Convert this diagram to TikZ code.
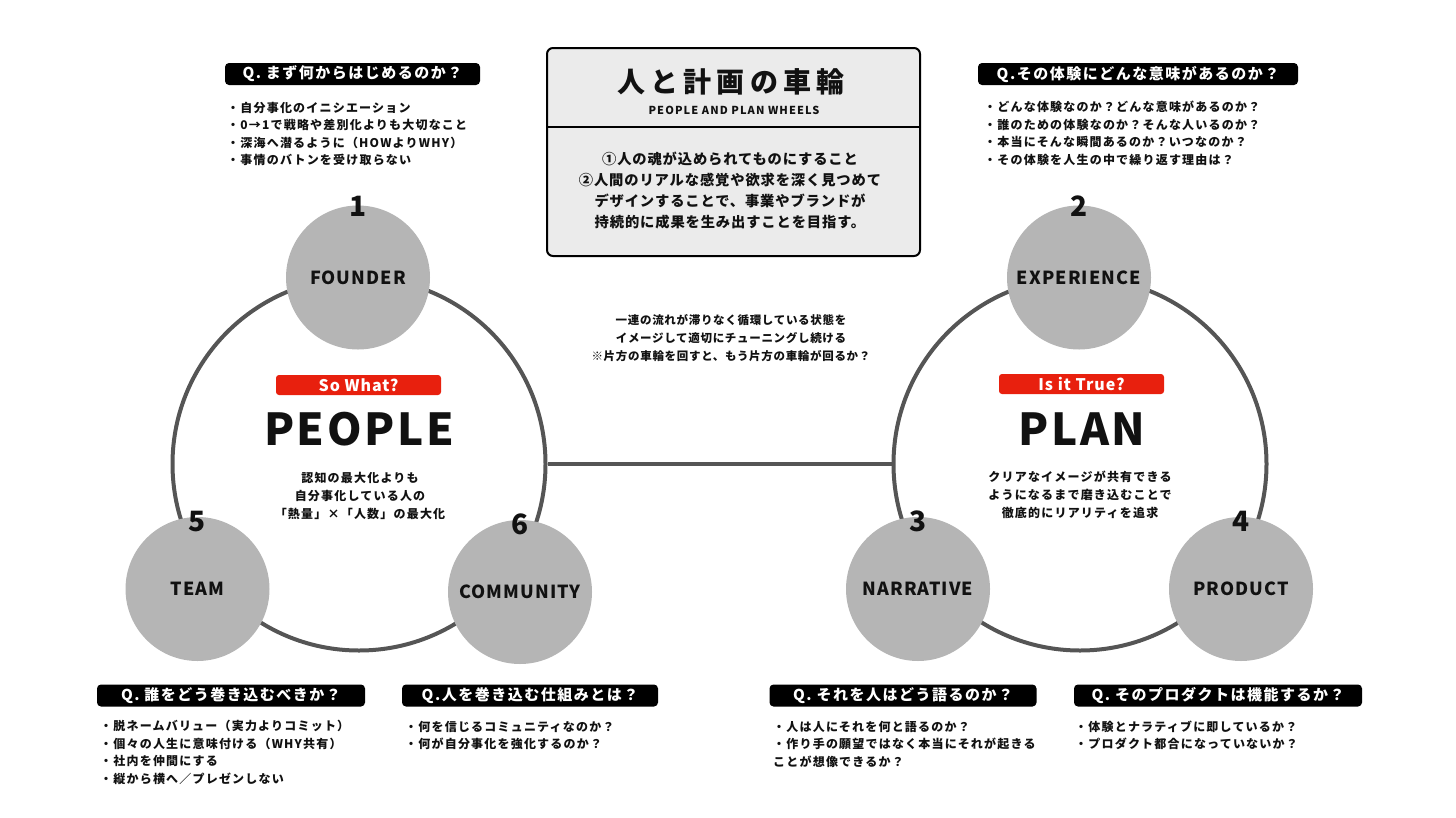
\documentclass[tikz,border=0pt]{standalone}
\usepackage{fontspec}
\setmainfont{Noto Sans CJK JP}
\newfontfamily\jpfont{Noto Sans CJK JP}[LetterSpace=10]
\newfontfamily\jptight{Noto Sans CJK JP}[LetterSpace=6]
\newfontfamily\jpwide{Noto Sans CJK JP}[LetterSpace=18]
\usetikzlibrary{positioning}
\definecolor{rimgray}{HTML}{555555}
\definecolor{spokegray}{HTML}{B5B5B5}
\definecolor{tagred}{HTML}{E8200E}
\definecolor{panelgray}{HTML}{EBEBEB}
\definecolor{inkblack}{HTML}{111111}
\tikzset{
  rim/.style={circle, draw=rimgray, line width=4pt, minimum size=373pt, inner sep=0pt},
  link/.style={draw=rimgray, line width=4pt},
  spoke/.style={circle, fill=spokegray, minimum size=144pt, inner sep=0pt, text=inkblack, font=\jptight\bfseries\fontsize{18pt}{18pt}\selectfont},
  num/.style={inner sep=0pt, text=inkblack, font=\bfseries\fontsize{28pt}{28pt}\selectfont},
  tag/.style={fill=tagred, rounded corners=3pt, minimum width=165pt, minimum height=20pt, inner sep=0pt, text=white, font=\jptight\bfseries\fontsize{16pt}{16pt}\selectfont},
  wheelname/.style={inner sep=0pt, anchor=base, text=inkblack, font=\jptight\bfseries\fontsize{44pt}{44pt}\selectfont},
  wheeldesc/.style={inner sep=0pt, align=center, text=inkblack, font=\jpfont\bfseries\fontsize{12pt}{18.3pt}\selectfont},
  qhead/.style={fill=black, rounded corners=4pt, minimum height=22pt, inner sep=0pt, text=white, font=\jpfont\bfseries\fontsize{15pt}{15pt}\selectfont},
  bullets/.style={inner sep=0pt, align=left, anchor=west, text=inkblack, font=\jpfont\bfseries\fontsize{12pt}{17.5pt}\selectfont},
  note/.style={inner sep=0pt, align=center, text=inkblack, font=\jptight\bfseries\fontsize{11.5pt}{18pt}\selectfont},
  panel/.style={draw=black, line width=2pt, fill=panelgray, rounded corners=6pt, minimum width=373pt, minimum height=208pt, inner sep=0pt}
}
\begin{document}
\begin{tikzpicture}[x=1pt, y=-1pt]
\useasboundingbox (0,0) rectangle (1456,817);
% title panel
\node[panel] (titlePanel) at (733.5,152) {};
\draw[line width=2pt] ([yshift=-80pt]titlePanel.north west) -- ([yshift=-80pt]titlePanel.north east);
\node[inner sep=0pt, text=inkblack, font=\jpwide\bfseries\fontsize{28pt}{28pt}\selectfont] (titleJp) at (731,81.7) {人と計画の車輪};
\node[inner sep=0pt, text=inkblack, font=\jpfont\bfseries\fontsize{11pt}{11pt}\selectfont] (titleEn) at (734,110) {PEOPLE AND PLAN WHEELS};
\node[note, font=\jptight\bfseries\fontsize{14.3pt}{21pt}\selectfont] (panelText) at (730,191) {①人の魂が込められてものにすること\\②人間のリアルな感覚や欲求を深く見つめて\\デザインすることで、事業やブランドが\\持続的に成果を生み出すことを目指す。};
% wheels
\node[rim] (peopleRim) at (359,464) {};
\node[rim] (planRim) at (1080,464) {};
\draw[link] (peopleRim.east) -- (planRim.west);
\node[spoke] (founder) at (358,277.5) {FOUNDER};
\node[spoke] (team) at (197.5,589) {TEAM};
\node[spoke] (community) at (520,592) {COMMUNITY};
\node[spoke] (experience) at (1079,277.5) {EXPERIENCE};
\node[spoke] (narrative) at (918,589) {NARRATIVE};
\node[spoke] (product) at (1241,589) {PRODUCT};
\node[num] (numFounder) at ([yshift=-1pt]founder.north) {1};
\node[num] (numExperience) at ([yshift=-1pt]experience.north) {2};
\node[num] (numNarrative) at ([yshift=-5pt]narrative.north) {3};
\node[num] (numProduct) at ([yshift=-5pt]product.north) {4};
\node[num] (numTeam) at ([yshift=-5pt]team.north) {5};
\node[num] (numCommunity) at ([yshift=-5pt]community.north) {6};
% wheel centres
\node[tag] (peopleTag) at (358.5,385) {So What?};
\node[wheelname] (peopleName) at (359,445.7) {PEOPLE};
\node[wheeldesc] (peopleDesc) at (360,496) {認知の最大化よりも\\自分事化している人の\\「熱量」×「人数」の最大化};
\node[tag] (planTag) at (1081.5,384) {Is it True?};
\node[wheelname] (planName) at (1082,445.7) {PLAN};
\node[wheeldesc] (planDesc) at (1080,495) {クリアなイメージが共有できる\\ようになるまで磨き込むことで\\徹底的にリアリティを追求};
\node[note] (linkNote) at (731,338.5) {一連の流れが滞りなく循環している状態を\\イメージして適切にチューニングし続ける\\※片方の車輪を回すと、もう片方の車輪が回るか？};
% questions
\node[qhead, minimum width=255pt] (qFounder) at (352.5,74) {Q. まず何からはじめるのか？};
\node[bullets] (bFounder) at (227,134) {・自分事化のイニシエーション\\・0→1で戦略や差別化よりも大切なこと\\・深海へ潜るように（HOWよりWHY）\\・事情のバトンを受け取らない};
\node[qhead, minimum width=320pt] (qExperience) at (1138,74) {Q.その体験にどんな意味があるのか？};
\node[bullets] (bExperience) at (984,133.5) {・どんな体験なのか？どんな意味があるのか？\\・誰のための体験なのか？そんな人いるのか？\\・本当にそんな瞬間あるのか？いつなのか？\\・その体験を人生の中で繰り返す理由は？};
\node[qhead, minimum width=268pt] (qTeam) at (231,695.5) {Q. 誰をどう巻き込むべきか？};
\node[bullets] (bTeam) at (100,752.3) {・脱ネームバリュー（実力よりコミット）\\・個々の人生に意味付ける（WHY共有）\\・社内を仲間にする\\・縦から横へ／プレゼンしない};
\node[qhead, minimum width=256pt] (qCommunity) at (530,695.5) {Q.人を巻き込む仕組みとは？};
\node[bullets] (bCommunity) at (405,735.3) {・何を信じるコミュニティなのか？\\・何が自分事化を強化するのか？};
\node[qhead, minimum width=267pt] (qNarrative) at (903,695.5) {Q. それを人はどう語るのか？};
\node[bullets] (bNarrative) at (773,744) {・人は人にそれを何と語るのか？\\・作り手の願望ではなく本当にそれが起きる\\ことが想像できるか？};
\node[qhead, minimum width=288pt] (qProduct) at (1218,695.5) {Q. そのプロダクトは機能するか？};
\node[bullets] (bProduct) at (1075,735.3) {・体験とナラティブに即しているか？\\・プロダクト都合になっていないか？};
\end{tikzpicture}
\end{document}
